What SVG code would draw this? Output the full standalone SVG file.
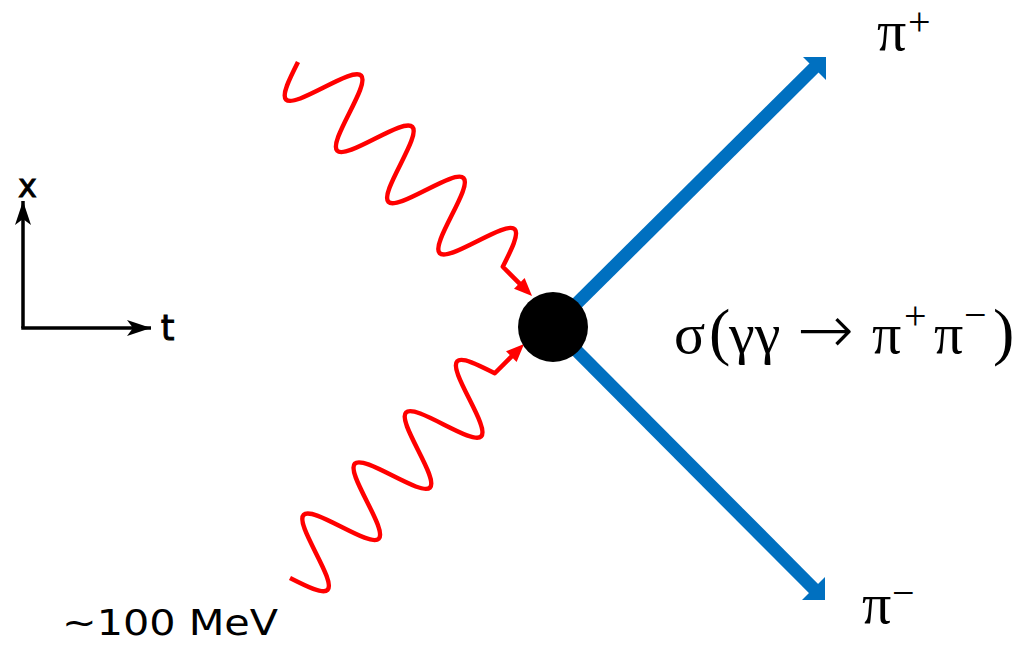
<svg xmlns="http://www.w3.org/2000/svg" width="1019" height="646" viewBox="0 0 1019 646">
<style>
.photon{fill:none;stroke:#FF0000;stroke-width:4.5;stroke-linecap:butt;stroke-linejoin:round}
.ph-head{fill:#FF0000}
.pion{stroke:#0070C0;stroke-width:13;fill:none}
.pi-head{fill:#0070C0}
.axis{stroke:#000;stroke-width:3.5;fill:none}
.serif{font-family:"Liberation Serif","Times New Roman",serif;fill:#000}
.hand{font-family:"DejaVu Sans","Liberation Sans",sans-serif;fill:#000}
.thick{stroke:#000;stroke-width:0.9}
</style>
<defs>
<path id="wave" d="M0,0 c5.9,17.93 11.55,35 18.1,35 s12.2,-17.07 18.1,-35 s11.55,-35 18.1,-35 s12.2,17.07 18.1,35 s11.55,35 18.1,35 s12.2,-17.07 18.1,-35 s11.55,-35 18.1,-35 s12.2,17.07 18.1,35 s11.55,35 18.1,35 s12.2,-17.07 18.1,-35 s11.55,-35 18.1,-35 s12.2,17.07 18.1,35 s11.55,35 18.1,35 s12.2,-17.07 18.1,-35 s11.55,-35 18.1,-35 s12.2,17.07 18.1,35 L317,0"/>
<marker id="axhead" markerWidth="26" markerHeight="18" refX="24" refY="9" orient="auto" markerUnits="userSpaceOnUse">
<path d="M0,1 L24,9 L0,17 L6,9 Z" fill="#000"/>
</marker>
</defs>
<g id="connectors">
<g id="photon-top" transform="translate(298,62) rotate(45)">
<use href="#wave" class="photon"/>
<polygon class="ph-head" points="331,0 313,-7.5 313,7.5"/>
</g>
<g id="photon-bottom" transform="translate(290,578) rotate(-45)">
<use href="#wave" class="photon"/>
<polygon class="ph-head" points="331,0 313,-7.5 313,7.5"/>
</g>
<g id="pion-plus">
<line class="pion" x1="553" y1="327" x2="815" y2="67"/>
<polygon class="pi-head" points="803,57 826,57 826,80"/>
</g>
<g id="pion-minus">
<line class="pion" x1="553" y1="327" x2="814" y2="589"/>
<polygon class="pi-head" points="802,600 825,600 825,577"/>
</g>
</g>
<g id="axes">
<line class="axis" x1="23" y1="328" x2="23" y2="201" marker-end="url(#axhead)"/>
<line class="axis" x1="21.25" y1="328" x2="151" y2="328" marker-end="url(#axhead)"/>
<text class="hand thick" x="27.5" y="197" font-size="32" text-anchor="middle">x</text>
<text class="hand thick" x="167.5" y="340" font-size="35" text-anchor="middle">t</text>
</g>
<g id="vertex">
<circle cx="553" cy="327" r="35" fill="#000"/>
</g>
<g id="label-piplus">
<text class="serif" x="877" y="50" font-size="58">π</text>
<text class="serif" x="908" y="35" font-size="40">+</text>
</g>
<g id="label-piminus">
<text class="serif" x="862" y="623" font-size="58">π</text>
<text class="serif" x="892" y="606" font-size="40">−</text>
</g>
<g id="label-sigma">
<text class="serif" y="353" font-size="58"><tspan x="674">σ</tspan><tspan x="709" font-size="64">(</tspan><tspan x="729">γγ</tspan><tspan x="797" font-family="DejaVu Sans" font-size="68" font-weight="300">→</tspan><tspan x="872">π</tspan><tspan x="904" y="329" font-size="40">+</tspan><tspan x="934" y="353">π</tspan><tspan x="964" y="328" font-size="40">−</tspan><tspan x="993" y="353" font-size="64">)</tspan></text>
</g>
<g id="label-energy">
<text class="hand" x="62" y="635" font-size="36" textLength="216" lengthAdjust="spacingAndGlyphs">~100 MeV</text>
</g>
</svg>
